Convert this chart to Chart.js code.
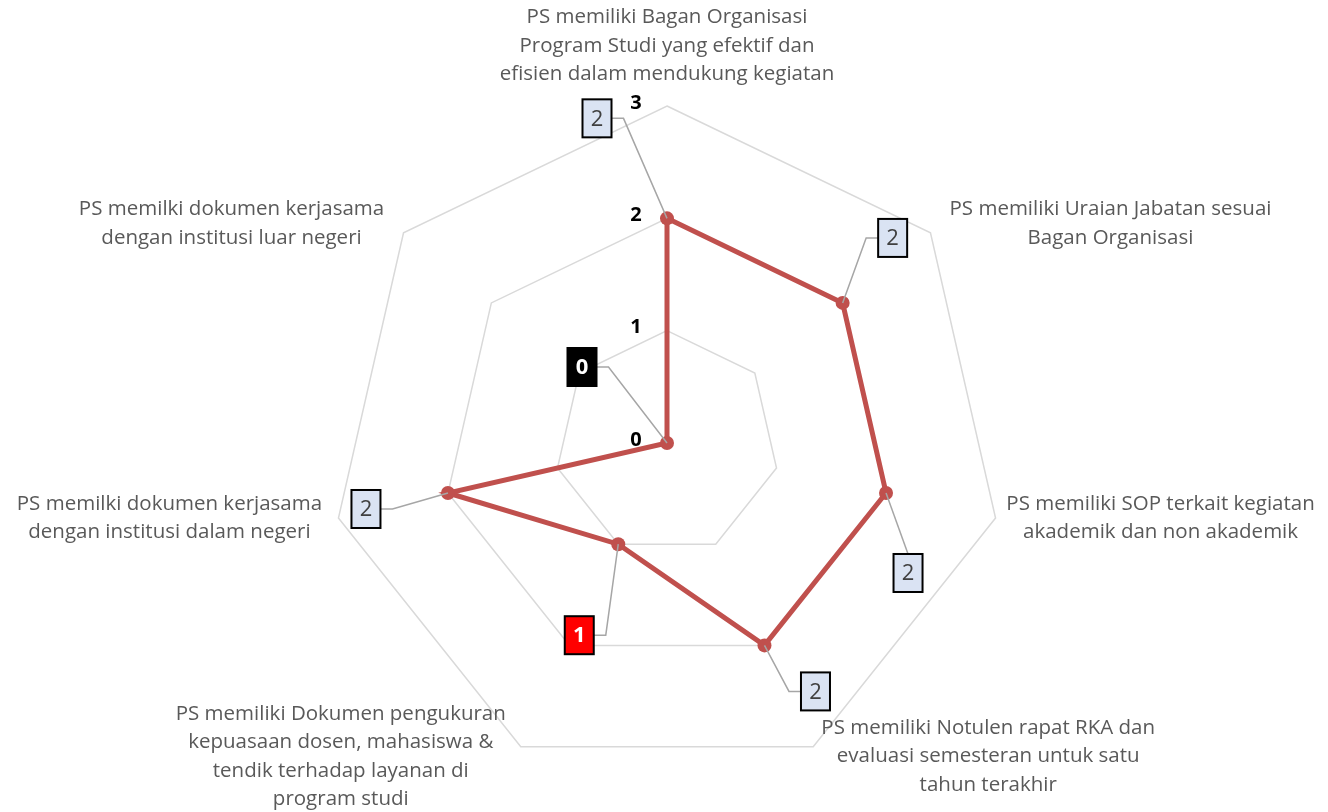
<!DOCTYPE html>
<html>
<head>
<meta charset="utf-8">
<script src="https://cdn.jsdelivr.net/npm/chart.js@4"></script>
<style>
  html, body { margin: 0; padding: 0; background: #fff; }
  #wrap { width: 1328px; height: 812px; position: relative; }
</style>
</head>
<body>
<div id="wrap"><canvas id="radarChart"></canvas></div>
<script>
const categories = [
    ['PS memiliki Bagan Organisasi', 'Program Studi yang efektif dan', 'efisien dalam mendukung kegiatan'],
    ['PS memiliki Uraian Jabatan sesuai', 'Bagan Organisasi'],
    ['PS memiliki SOP terkait kegiatan', 'akademik dan non akademik'],
    ['PS memiliki Notulen rapat RKA dan', 'evaluasi semesteran untuk satu', 'tahun terakhir'],
    ['PS memiliki Dokumen pengukuran', 'kepuasaan dosen, mahasiswa &', 'tendik terhadap layanan di', 'program studi'],
    ['PS memilki dokumen kerjasama', 'dengan institusi dalam negeri'],
    ['PS memilki dokumen kerjasama', 'dengan institusi luar negeri']
];
const scores = [2, 2, 2, 2, 1, 2, 0];
const tickValues = [0, 1, 2, 3];

// where each axis title sits, relative to the outer vertex
const titleOffsets = [[0, -60], [180, -9], [165, 0], [175, 10], [-180, 10], [-169, 0], [-172, -9]];
// data label boxes: offset from the point, and which side the leader joins
const boxOffsets = [[-70, -100, 'r'], [50, -65, 'l'], [22, 80, 't'], [51, 46, 'l'], [-39, 91, 'r'], [-82, 16, 'r'], [-85, -76, 'r']];

const FONT = '"Open Sans", "Liberation Sans", sans-serif';

function boxStyle(v) {
    if (v === 0) return { fill: '#000000', text: '#ffffff', bold: true };
    if (v === 1) return { fill: '#ff0000', text: '#ffffff', bold: true };
    return { fill: '#dae3f3', text: '#404040', bold: false };
}

const labelsPlugin = {
    id: 'radarLabels',
    afterDatasetsDraw(chart) {
        const ctx = chart.ctx;
        const scale = chart.scales.r;
        const meta = chart.getDatasetMeta(0);
        ctx.save();
        meta.data.forEach((pt, i) => {
            const [dx, dy, side] = boxOffsets[i];
            const bx = pt.x + dx, by = pt.y + dy;
            const bw = 29, bh = 38;
            ctx.strokeStyle = '#a6a6a6';
            ctx.lineWidth = 1.5;
            ctx.beginPath();
            if (side === 'r') {
                ctx.moveTo(bx + bw / 2, by);
                ctx.lineTo(bx + bw / 2 + 12, by);
            } else if (side === 'l') {
                ctx.moveTo(bx - bw / 2, by);
                ctx.lineTo(bx - bw / 2 - 12, by);
            } else {
                ctx.moveTo(bx, by - bh / 2);
            }
            ctx.lineTo(pt.x, pt.y);
            ctx.stroke();

            const st = boxStyle(scores[i]);
            ctx.fillStyle = st.fill;
            ctx.fillRect(bx - bw / 2, by - bh / 2, bw, bh);
            ctx.strokeStyle = '#000';
            ctx.lineWidth = 2;
            ctx.strokeRect(bx - bw / 2, by - bh / 2, bw, bh);
            ctx.fillStyle = st.text;
            ctx.font = (st.bold ? 'bold ' : '') + '22px ' + FONT;
            ctx.textAlign = 'center';
            ctx.textBaseline = 'middle';
            ctx.fillText(String(scores[i]), bx, by + 1);
        });

        // axis titles
        ctx.fillStyle = '#595959';
        ctx.font = '20.5px ' + FONT;
        ctx.textAlign = 'center';
        ctx.textBaseline = 'middle';
        categories.forEach((lines, i) => {
            const p = scale.getPointPosition(i, scale.drawingArea);
            const cx = p.x + titleOffsets[i][0];
            const cy = p.y + titleOffsets[i][1];
            const lh = 28.5;
            const top = cy - (lines.length - 1) * lh / 2;
            lines.forEach((t, k) => ctx.fillText(t, cx, top + k * lh));
        });

        // tick labels, left of the vertical axis
        ctx.fillStyle = '#000';
        ctx.font = 'bold 20px ' + FONT;
        tickValues.forEach(v => {
            const d = scale.getDistanceFromCenterForValue(v);
            ctx.fillText(String(v), scale.xCenter - 31, scale.yCenter - d - 3);
        });
        ctx.restore();
    }
};

new Chart(document.getElementById('radarChart'), {
    type: 'radar',
    data: {
        labels: categories,
        datasets: [{
            data: scores,
            borderColor: '#c0504d',
            backgroundColor: '#c0504d',
            borderWidth: 5,
            pointRadius: 7,
            pointBackgroundColor: '#c0504d',
            pointBorderWidth: 0,
            fill: false
        }]
    },
    options: {
        responsive: true,
        maintainAspectRatio: false,
        animation: false,
        layout: { padding: { top: 106, bottom: 32, left: 6, right: 0 } },
        plugins: { legend: { display: false }, tooltip: { enabled: false } },
        scales: {
            r: {
                min: 0,
                max: 3,
                ticks: { display: false, stepSize: 1 },
                pointLabels: { display: false },
                angleLines: { display: false },
                grid: { color: '#d9d9d9', lineWidth: 1.5 }
            }
        }
    },
    plugins: [labelsPlugin]
});
</script>
</body>
</html>
